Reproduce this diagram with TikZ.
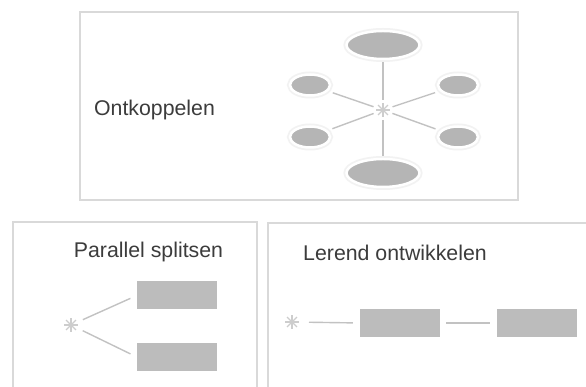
\documentclass[tikz,border=0pt]{standalone}
\usepackage{fontspec}
\setmainfont{Liberation Sans}
\usetikzlibrary{shapes.geometric}
\definecolor{frame}{HTML}{D9D9D9}
\definecolor{blob}{HTML}{B5B5B5}
\definecolor{halo}{HTML}{F2F2F2}
\definecolor{link}{HTML}{C2C2C2}
\definecolor{ink}{HTML}{3C3C3C}
\definecolor{spark}{HTML}{CDCDCD}
\begin{document}
\begin{tikzpicture}[x=1pt,y=1pt,
  panel/.style={draw=frame, line width=1.2pt},
  title/.style={text=ink, font=\fontsize{21.3}{25}\selectfont, inner sep=0pt},
  bigblob/.style={ellipse, minimum width=73pt, minimum height=28pt, inner sep=0pt,
    fill=blob, draw=white, line width=2.5pt, preaction={draw=halo, line width=6pt}},
  smallblob/.style={ellipse, minimum width=40pt, minimum height=21pt, inner sep=0pt,
    fill=blob, draw=white, line width=2.5pt, preaction={draw=halo, line width=6pt}},
  block/.style={rectangle, minimum width=80pt, minimum height=28pt, inner sep=0pt, fill=blob!90!white},
  link/.style={draw=link, line width=1.4pt},
  spark/.pic={\foreach \a in {0,45,...,315} \draw[spark, line width=1.2pt] (0,0) -- (\a:7pt);}
]
\useasboundingbox (0,0) rectangle (586,387);
\fill[white] (0,0) rectangle (586,387);

% upper panel: decoupling
\draw[panel] (80,375) rectangle (518,187);
\node[title] (ontk) at (154.5,277) {Ontkoppelen};
\coordinate (hub) at (383,277);
\pic at (hub) {spark};
\node[bigblob] (top) at (383,342) {};
\node[bigblob] (bot) at (383,214) {};
\node[smallblob] (lu) at (310,302) {};
\node[smallblob] (ll) at (310,250) {};
\node[smallblob] (ru) at (458,302) {};
\node[smallblob] (rl) at (458,250) {};
\foreach \n in {top,bot} \draw[link, shorten <=10pt, shorten >=2pt] (hub) -- (\n);
\foreach \n in {lu,ll,ru,rl} \draw[link, shorten <=10pt, shorten >=5pt] (hub) -- (\n);

% lower left panel: parallel split
\draw[panel] (13,-5) -- (13,165) -- (257,165) -- (257,-5);
\node[title] (par) at (148.5,135) {Parallel splitsen};
\coordinate (fork) at (71,62);
\pic at (fork) {spark};
\node[block] (pa) at (177,91.5) {};
\node[block] (pb) at (177,30) {};
\draw[link, shorten <=13pt, shorten >=7pt] (fork) -- (pa.west);
\draw[link, shorten <=13pt, shorten >=7pt] (fork) -- (pb.west);

% lower right panel: learning development
\draw[panel] (268,-5) -- (268,164) -- (590,164);
\node[title] (ler) at (395,134) {Lerend ontwikkelen};
\coordinate (seed) at (292,65);
\pic at (seed) {spark};
\node[block] (la) at (400,64) {};
\node[block] (lb) at (537,64) {};
\draw[link, shorten <=17pt, shorten >=7pt] (seed) -- (la.west);
\draw[link, shorten <=6pt, shorten >=7pt] (la.east) -- (lb.west);
\end{tikzpicture}
\end{document}
